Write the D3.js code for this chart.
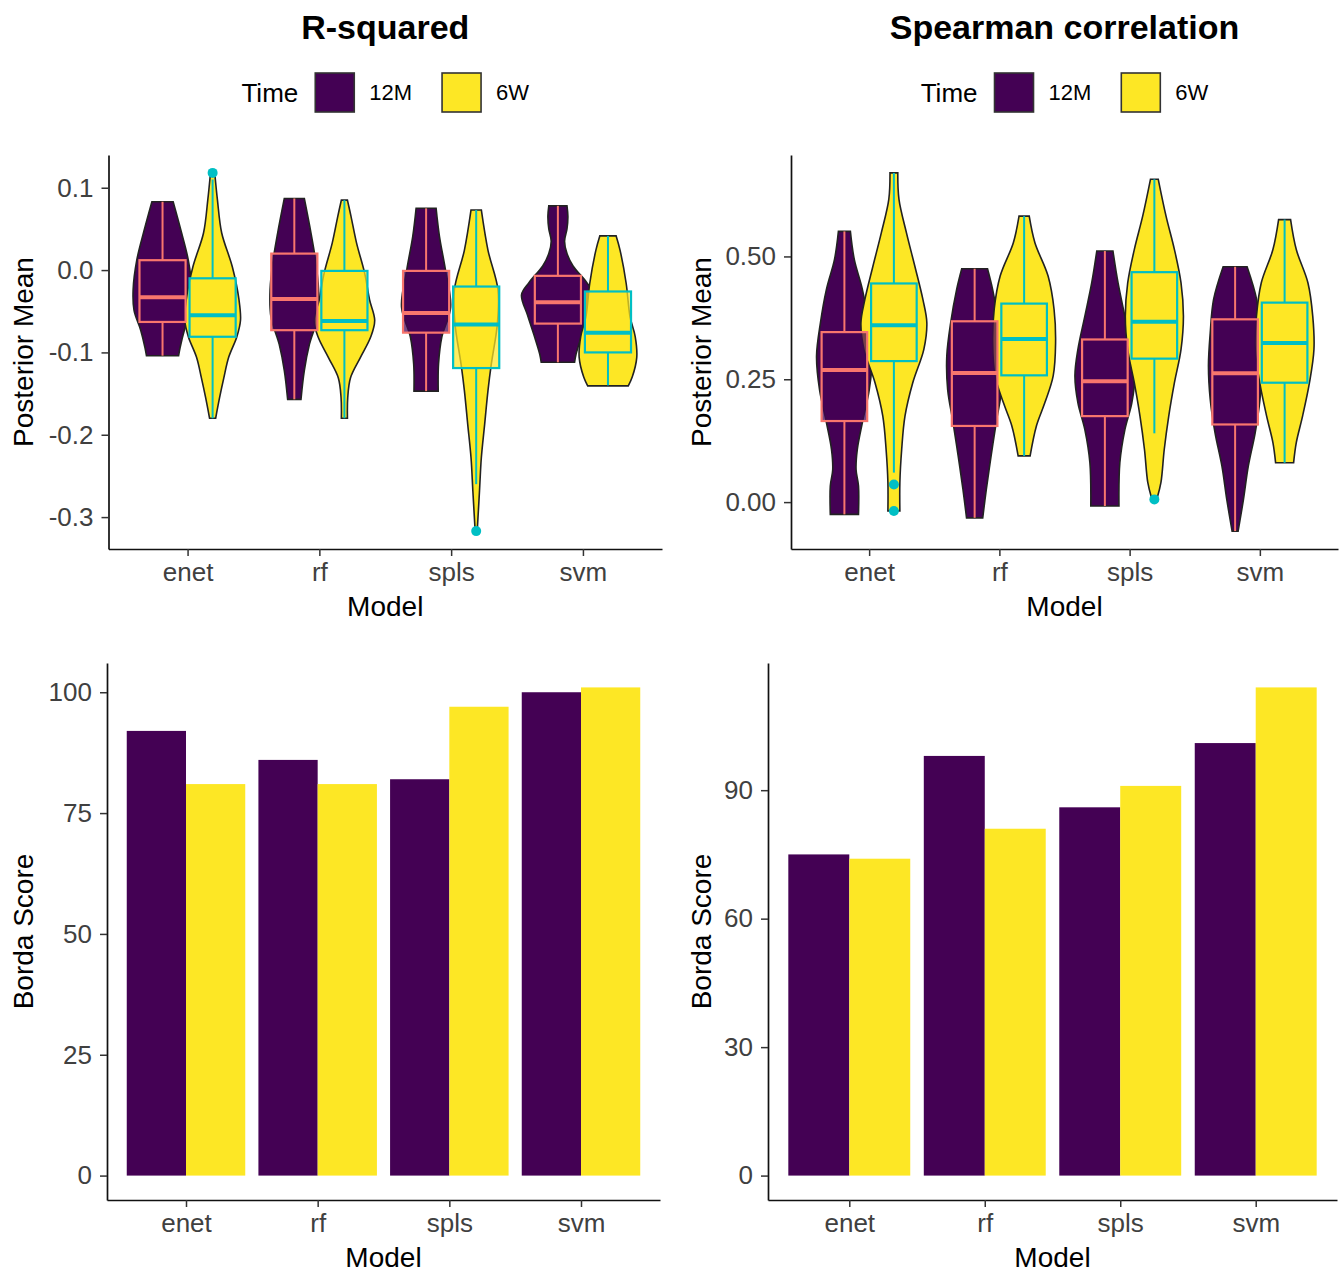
<!DOCTYPE html>
<html><head><meta charset="utf-8">
<script src="https://cdn.jsdelivr.net/npm/d3@7"></script>
<style>
body{margin:0;background:#fff}
text{font-family:"Liberation Sans",Arial,Helvetica,sans-serif}
</style>
</head><body>
<svg id="c" width="1341" height="1273"></svg>
<script>
// ---------------- DATA ----------------
const models = ["enet", "rf", "spls", "svm"];
const times = ["12M", "6W"];
const timeColors = ["#440154", "#FDE725"];
const boxColors = ["#F8766D", "#00BFC4"];

// Violin density profiles: [value, relative half-width], one list per model
const r2Violin12M = [
  [[0.083,0.35],[0.045,0.63],[0.012,0.85],[-0.024,0.97],[-0.049,0.94],[-0.073,0.72],[-0.094,0.58],[-0.104,0.53]],
  [[0.087,0.33],[0.045,0.55],[0.012,0.7],[-0.024,0.8],[-0.057,0.77],[-0.09,0.5],[-0.122,0.33],[-0.157,0.22]],
  [[0.075,0.33],[0.041,0.44],[0.002,0.63],[-0.045,0.81],[-0.081,0.52],[-0.114,0.41],[-0.147,0.4]],
  [[0.078,0.3],[0.065,0.33],[0.05,0.3],[0.035,0.22],[0.02,0.3],[0.005,0.5],[-0.015,0.95],[-0.03,1.2],[-0.055,1.0],[-0.081,0.77],[-0.102,0.6],[-0.112,0.55]]
];
const r2Violin6W = [
  [[0.114,0.08],[0.085,0.16],[0.045,0.3],[0.004,0.65],[-0.036,0.87],[-0.061,0.92],[-0.081,0.8],[-0.106,0.53],[-0.131,0.37],[-0.155,0.23],[-0.18,0.1]],
  [[0.085,0.1],[0.065,0.22],[0.033,0.4],[-0.004,0.67],[-0.036,0.83],[-0.061,1.0],[-0.081,0.87],[-0.106,0.53],[-0.131,0.2],[-0.155,0.11],[-0.18,0.1]],
  [[0.073,0.17],[0.024,0.39],[-0.024,0.72],[-0.065,0.7],[-0.114,0.5],[-0.146,0.39],[-0.187,0.28],[-0.228,0.17],[-0.268,0.11],[-0.313,0.04]],
  [[0.0415,0.27],[0.024,0.4],[-0.016,0.6],[-0.057,0.73],[-0.081,0.9],[-0.106,0.95],[-0.13,0.8],[-0.1407,0.67]]
];
// Box stats: [lower whisker, Q1, median, Q3, upper whisker]
const r2Box12M = [
  [-0.104,-0.063,-0.033,0.012,0.083],
  [-0.157,-0.073,-0.035,0.020,0.087],
  [-0.147,-0.076,-0.052,-0.001,0.075],
  [-0.112,-0.065,-0.039,-0.007,0.078]
];
const r2Box6W = [
  [-0.18,-0.081,-0.055,-0.010,0.11],
  [-0.18,-0.073,-0.062,-0.001,0.085],
  [-0.26,-0.119,-0.066,-0.020,0.073],
  [-0.14,-0.100,-0.076,-0.026,0.0415]
];
const r2Out12M = [[],[],[],[]];
const r2Out6W = [[0.118],[],[-0.317],[]];
const r2Ticks = [-0.3,-0.2,-0.1,0.0,0.1];

const spViolin12M = [
  [[0.551,0.2],[0.494,0.33],[0.433,0.6],[0.365,0.8],[0.297,0.93],[0.229,0.83],[0.162,0.6],[0.107,0.43],[0.066,0.39],[0.033,0.47],[-0.025,0.47]],
  [[0.475,0.43],[0.433,0.6],[0.365,0.8],[0.297,0.93],[0.229,0.9],[0.162,0.72],[0.094,0.55],[0.026,0.39],[-0.032,0.27]],
  [[0.511,0.27],[0.446,0.44],[0.378,0.67],[0.311,0.9],[0.257,1.0],[0.202,0.9],[0.148,0.67],[0.08,0.5],[-0.008,0.47]],
  [[0.479,0.4],[0.412,0.72],[0.345,0.83],[0.277,0.89],[0.209,0.83],[0.141,0.67],[0.073,0.44],[0.006,0.28],[-0.059,0.1]]
];
const spViolin6W = [
  [[0.67,0.13],[0.616,0.17],[0.548,0.42],[0.48,0.7],[0.412,0.97],[0.365,1.1],[0.311,1.0],[0.243,0.63],[0.175,0.37],[0.107,0.26],[0.04,0.2],[-0.018,0.2]],
  [[0.582,0.17],[0.528,0.36],[0.46,0.8],[0.392,1.0],[0.324,1.05],[0.257,0.97],[0.202,0.69],[0.155,0.41],[0.094,0.2]],
  [[0.657,0.13],[0.582,0.39],[0.514,0.67],[0.446,0.89],[0.378,0.97],[0.311,0.89],[0.243,0.67],[0.175,0.48],[0.107,0.33],[0.04,0.22],[0.01,0.1]],
  [[0.575,0.2],[0.514,0.39],[0.446,0.78],[0.378,0.94],[0.311,0.98],[0.243,0.83],[0.175,0.6],[0.121,0.39],[0.08,0.3]]
];
const spBox12M = [
  [-0.025,0.165,0.269,0.346,0.551],
  [-0.032,0.155,0.263,0.368,0.475],
  [-0.008,0.175,0.246,0.331,0.511],
  [-0.059,0.158,0.262,0.372,0.479]
];
const spBox6W = [
  [0.06,0.287,0.360,0.445,0.67],
  [0.094,0.258,0.332,0.404,0.582],
  [0.14,0.292,0.367,0.468,0.657],
  [0.08,0.243,0.324,0.406,0.575]
];
const spOut12M = [[],[],[],[]];
const spOut6W = [[0.036,-0.018],[],[0.0055],[]];
const spTicks = [0.00,0.25,0.50];

const bordaR2_12M = [92, 86, 82, 100];
const bordaR2_6W = [81, 81, 97, 101];
const bordaSp_12M = [75, 98, 86, 101];
const bordaSp_6W = [74, 81, 91, 114];
const bordaR2Ticks = [0, 25, 50, 75, 100];
const bordaSpTicks = [0, 30, 60, 90];

// ---------------- DRAWING ----------------
const svg = d3.select("#c");
const TICK_FS = 26, TITLE_FS = 28;
const hyphenFmt = spec => d => d3.format(spec)(d).replace("\u2212", "-");

function styleAxis(g) {
  g.select(".domain").attr("stroke", "#111").attr("stroke-width", 1.7);
  g.selectAll(".tick line").attr("stroke", "#333").attr("stroke-width", 1.5);
  g.selectAll(".tick text").attr("fill", "#404040").attr("font-size", TICK_FS)
    .attr("font-family", "'Liberation Sans',Arial,sans-serif");
}

function axes(p, xScale, yScale, ticks, fmt, yTitle) {
  const gx = svg.append("g").attr("transform", `translate(0,${p.yBot})`)
    .call(d3.axisBottom(xScale).tickSize(7).tickSizeOuter(0).tickPadding(6));
  styleAxis(gx);
  gx.selectAll(".tick text").attr("dy", "0.72em");
  const gy = svg.append("g").attr("transform", `translate(${p.x0},0)`)
    .call(d3.axisLeft(yScale).tickValues(ticks).tickFormat(fmt).tickSize(7).tickSizeOuter(0).tickPadding(8));
  styleAxis(gy);
  svg.append("text").attr("x", (p.x0 + p.x1) / 2).attr("y", p.yBot + 67)
    .attr("text-anchor", "middle").attr("font-size", TITLE_FS).attr("fill", "#000").text("Model");
  svg.append("text").attr("transform", `translate(${p.yTitleX},${(p.yTop + p.yBot) / 2}) rotate(-90)`)
    .attr("text-anchor", "middle").attr("font-size", TITLE_FS).attr("fill", "#000").text(yTitle);
}

function violinPanel(p, V12, V6, B12, B6, O12, O6, ticks, fmt, title) {
  const all = [];
  [V12, V6].forEach(V => V.forEach(v => v.forEach(d => all.push(d[0]))));
  [B12, B6].forEach(B => B.forEach(b => b.forEach(d => all.push(d))));
  [O12, O6].forEach(O => O.forEach(o => o.forEach(d => all.push(d))));
  const [mn, mx] = d3.extent(all);
  const pad = (mx - mn) * 0.05;
  const y = d3.scaleLinear().domain([mn - pad, mx + pad]).range([p.yBot, p.yTop]);
  const x = d3.scalePoint().domain(models).range([p.x0, p.x1]).padding(0.6);
  const step = x.step();
  const off = [-0.19 * step, 0.19 * step];
  const unit = 0.23 * step;
  const boxW = 0.35 * step;

  const gV = svg.append("g");
  [V12, V6].forEach((V, ti) => {
    V.forEach((prof, mi) => {
      const cx = x(models[mi]) + off[ti];
      const area = d3.area().y(d => y(d[0])).x0(d => cx - d[1] * unit).x1(d => cx + d[1] * unit)
        .curve(d3.curveCatmullRom.alpha(0.5));
      gV.append("path").attr("d", area(prof)).attr("fill", timeColors[ti])
        .attr("stroke", "#222").attr("stroke-width", 1.6);
    });
  });
  const gB = svg.append("g");
  [B12, B6].forEach((B, ti) => {
    B.forEach((b, mi) => {
      const cx = x(models[mi]) + off[ti];
      const c = boxColors[ti];
      gB.append("line").attr("x1", cx).attr("x2", cx).attr("y1", y(b[0])).attr("y2", y(b[1]))
        .attr("stroke", c).attr("stroke-width", 2);
      gB.append("line").attr("x1", cx).attr("x2", cx).attr("y1", y(b[3])).attr("y2", y(b[4]))
        .attr("stroke", c).attr("stroke-width", 2);
      gB.append("rect").attr("x", cx - boxW / 2).attr("width", boxW)
        .attr("y", y(b[3])).attr("height", y(b[1]) - y(b[3]))
        .attr("fill", timeColors[ti]).attr("fill-opacity", 0.72)
        .attr("stroke", c).attr("stroke-width", 2.2);
      gB.append("line").attr("x1", cx - boxW / 2).attr("x2", cx + boxW / 2)
        .attr("y1", y(b[2])).attr("y2", y(b[2])).attr("stroke", c).attr("stroke-width", 4);
    });
  });
  [O12, O6].forEach((O, ti) => {
    O.forEach((o, mi) => {
      const cx = x(models[mi]) + off[ti];
      o.forEach(v => gB.append("circle").attr("cx", cx).attr("cy", y(v)).attr("r", 5)
        .attr("fill", boxColors[ti]));
    });
  });
  axes(p, x, y, ticks, fmt, "Posterior Mean");

  // title
  const cxp = (p.x0 + p.x1) / 2;
  svg.append("text").attr("x", cxp).attr("y", 39).attr("text-anchor", "middle")
    .attr("font-size", 34).attr("font-weight", "bold").attr("fill", "#000").text(title);
  // legend
  const lg = svg.append("g");
  const tTitle = lg.append("text").attr("y", 102).attr("font-size", 26).attr("fill", "#000").text("Time");
  let cur = 0;
  tTitle.attr("x", cur); cur += tTitle.node().getComputedTextLength() + 17;
  times.forEach((t, i) => {
    lg.append("rect").attr("x", cur).attr("y", 73).attr("width", 39).attr("height", 39)
      .attr("fill", timeColors[i]).attr("stroke", "#333").attr("stroke-width", 1.6);
    cur += 39 + 15;
    const tx = lg.append("text").attr("x", cur).attr("y", 100).attr("font-size", 22)
      .attr("fill", "#000").text(t);
    cur += tx.node().getComputedTextLength() + (i === 0 ? 30 : 0);
  });
  lg.attr("transform", `translate(${cxp - cur / 2},0)`);
}

function barPanel(p, v12, v6, ticks) {
  const mx = d3.max(v12.concat(v6));
  const pad = mx * 0.05;
  const y = d3.scaleLinear().domain([-pad, mx + pad]).range([p.yBot, p.yTop]);
  const x = d3.scaleBand().domain(models).range([p.x0, p.x1]).paddingInner(0.1).paddingOuter(0.15);
  const xs = d3.scaleBand().domain(times).range([0, x.bandwidth()]);
  const g = svg.append("g");
  [v12, v6].forEach((vals, ti) => {
    g.selectAll(null).data(vals).enter().append("rect")
      .attr("x", (d, i) => x(models[i]) + xs(times[ti]))
      .attr("width", xs.bandwidth())
      .attr("y", d => y(d)).attr("height", d => y(0) - y(d))
      .attr("fill", timeColors[ti]);
  });
  const xp = d3.scalePoint().domain(models).range([p.x0, p.x1]).padding(0.6);
  axes(p, xp, y, ticks, d3.format("d"), "Borda Score");
}

const pTL = {x0: 108.5, x1: 662, yTop: 155, yBot: 549, yTitleX: 33};
const pTR = {x0: 791, x1: 1338, yTop: 155, yBot: 549, yTitleX: 711};
const pBL = {x0: 107, x1: 660, yTop: 663, yBot: 1200, yTitleX: 33};
const pBR = {x0: 768, x1: 1337, yTop: 663, yBot: 1200, yTitleX: 711};

violinPanel(pTL, r2Violin12M, r2Violin6W, r2Box12M, r2Box6W, r2Out12M, r2Out6W, r2Ticks, hyphenFmt(".1f"), "R-squared");
violinPanel(pTR, spViolin12M, spViolin6W, spBox12M, spBox6W, spOut12M, spOut6W, spTicks, hyphenFmt(".2f"), "Spearman correlation");
barPanel(pBL, bordaR2_12M, bordaR2_6W, bordaR2Ticks);
barPanel(pBR, bordaSp_12M, bordaSp_6W, bordaSpTicks);
</script>
</body></html>
